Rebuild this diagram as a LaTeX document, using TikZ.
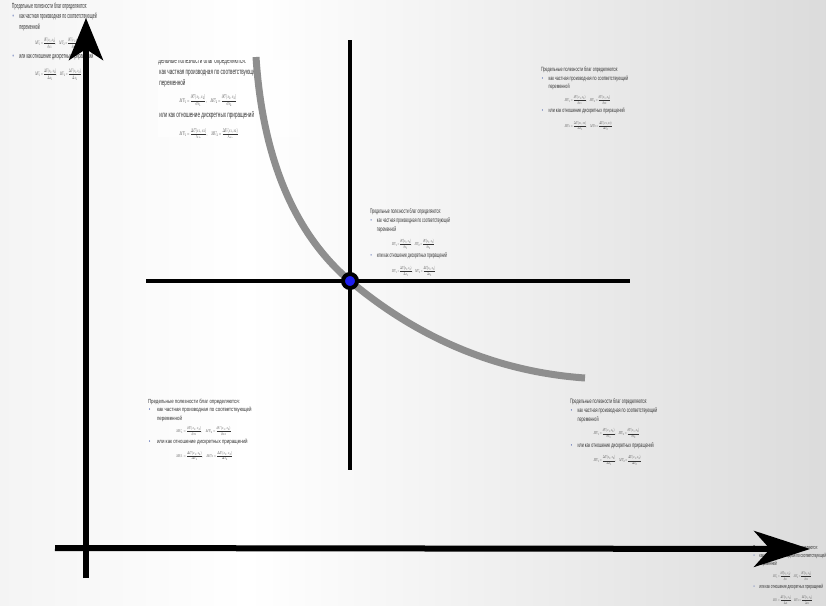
\documentclass[tikz,border=0pt]{standalone}
\usepackage{fontspec}
\usepackage{amsmath}
\setmainfont{Liberation Sans}
\usetikzlibrary{arrows.meta}
\definecolor{bgl}{HTML}{E2E2E2}
\definecolor{bgr}{HTML}{C2C2C2}
\definecolor{curvegray}{HTML}{8E8E8E}
\definecolor{dotblue}{HTML}{1E1EF0}
\definecolor{bulc}{HTML}{5A6EB4}
\definecolor{txt}{HTML}{333333}
\pgfdeclarehorizontalshading{bgshade}{100bp}{color(0bp)=(bgl); color(40bp)=(white); color(100bp)=(bgr)}
\newcommand\muformula[1]{\scalebox{0.68}{$#1$}}
\newcommand\mulines[1]{%
\begin{tabular}[t]{@{}l@{}}
Предельные полезности благ определяются:\\
#1как частная производная по соответствующей\\
\phantom{#1}переменной\\[7pt]
\hspace{64pt}\muformula{MU_1=\dfrac{\partial U(x_1,x_2)}{\partial x_1},\quad MU_2=\dfrac{\partial U(x_1,x_2)}{\partial x_2}}\\[5pt]
#1или как отношение дискретных приращений\\[9pt]
\hspace{64pt}\muformula{MU_1=\dfrac{\Delta U(x_1,x_2)}{\Delta x_1},\quad MU_2=\dfrac{\Delta U(x_1,x_2)}{\Delta x_2}}
\end{tabular}}
\newcommand\mybul{\hspace{2pt}{\color{bulc}\textbullet}\hspace{15pt}}
\newcommand\mublock[2]{\scalebox{#1}[#2]{\fontsize{10}{14}\selectfont\color{txt}\mulines{\mybul}}}
\tikzset{
  txtblock/.style={anchor=base west, inner sep=0pt, outer sep=0pt},
  axisline/.style={line width=6pt, draw=black},
  crossline/.style={line width=4pt, draw=black},
  indiff/.style={line width=7pt, draw=curvegray},
}
\begin{document}
\begin{tikzpicture}[x=1pt,y=-1pt]
\useasboundingbox (0,0) rectangle (826,605);
\shade[shading=bgshade] (0,0) rectangle (826,605);
% text blocks
\node[txtblock] (t1) at (12,8.5) {\mublock{0.36}{0.74}};
\node[txtblock] (t3) at (541,71.5) {\mublock{0.37}{0.61}};
\node[txtblock] (t4) at (370,213.5) {\mublock{0.34}{0.65}};
\node[txtblock] (t5) at (148,403.5) {\mublock{0.44}{0.59}};
\node[txtblock] (t6) at (570,403.5) {\mublock{0.37}{0.64}};
\node[txtblock] (t7) at (753,549.5) {\mublock{0.31}{0.57}};
\begin{scope}
\clip (158,60.5) rectangle (300,137);
\fill[white, opacity=0.5] (158,58) rectangle (300,137);
\node[txtblock] (t2) at (150,63) {\mublock{0.46}{0.80}};
\end{scope}
% cross
\coordinate (vt) at (350,40);
\coordinate (vb) at (350,470);
\coordinate (hl) at (146,281);
\coordinate (hr) at (630,281);
\draw[crossline] (vt) -- (vb);
\draw[crossline] (hl) -- (hr);
% curve
\coordinate (cs) at (256,57);
\coordinate (ce) at (585,378);
\coordinate (cm) at (350,281);
\draw[indiff] (cs) .. controls (262,150) and (290,230) .. (cm)
  .. controls (420,340) and (500,372) .. (ce);
% axes
\coordinate (yb) at (86,578);
\coordinate (yt) at (86,18);
\coordinate (xl) at (55,548);
\coordinate (xr) at (810,549);
\draw[axisline, -{Stealth[length=42pt,width=34pt,inset=11pt]}] (yb) -- (yt);
\draw[axisline, -{Stealth[length=56pt,width=36pt,inset=16pt]}] (xl) -- (xr);
% equilibrium dot
\node[circle, draw=black, fill=dotblue, line width=4pt, minimum size=14pt, inner sep=0pt] (eq) at (cm) {};
\end{tikzpicture}
\end{document}
